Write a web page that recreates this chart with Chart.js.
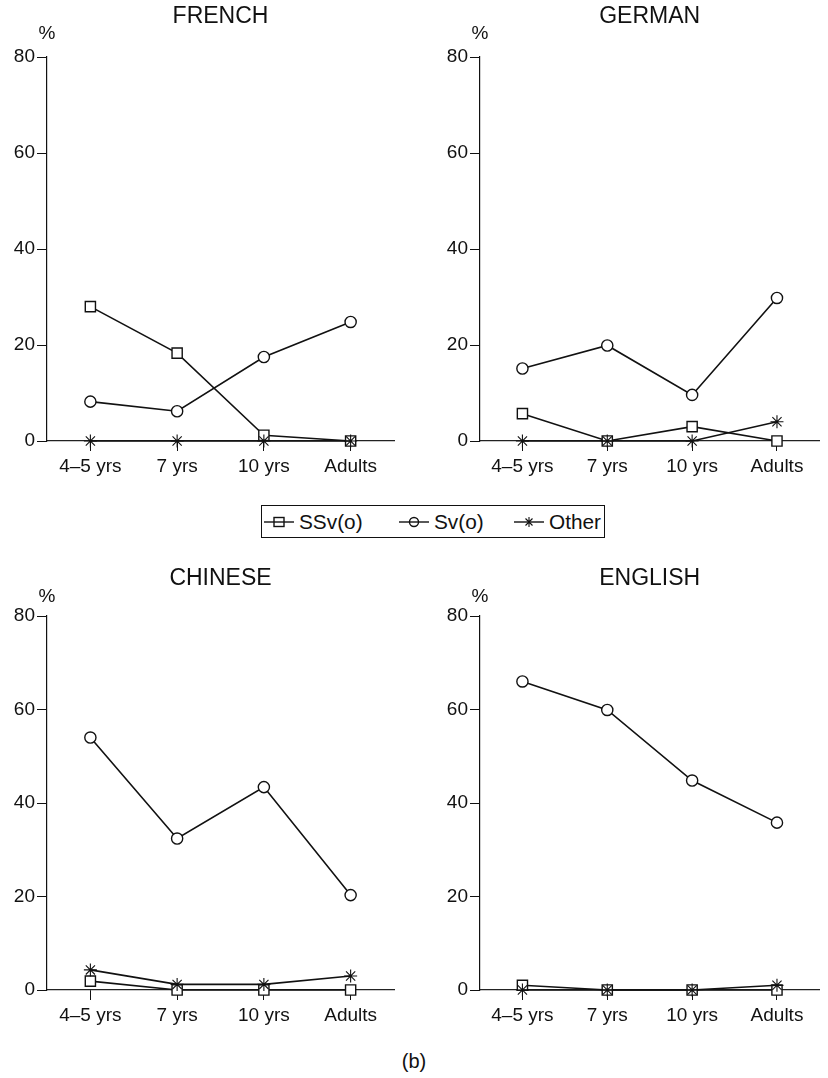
<!DOCTYPE html>
<html>
<head>
<meta charset="utf-8">
<script src="https://cdn.jsdelivr.net/npm/chart.js@4.4.1/dist/chart.umd.min.js"></script>
<style>
  html, body { margin: 0; padding: 0; background: #fff; }
  body { width: 828px; height: 1078px; position: relative; overflow: hidden; font-family: "Liberation Sans", Arial, sans-serif; color: #111; }
  canvas.panel { position: absolute; }
  #legend { position: absolute; left: 261px; top: 505px; width: 342px; height: 31px; border: 1px solid #111; }
  .litem { position: absolute; top: 0; height: 31px; display: flex; align-items: center; font-size: 20.8px; }
  .litem canvas { margin-right: 5px; }
  #caption { position: absolute; left: 0; width: 828px; top: 1050px; text-align: center; font-size: 20px; }
</style>
</head>
<body>
<canvas id="pFrench" class="panel" width="414" height="480" style="left:0;top:0;width:414px;height:480px"></canvas>
<canvas id="pGerman" class="panel" width="414" height="480" style="left:414px;top:0;width:414px;height:480px"></canvas>
<canvas id="pChinese" class="panel" width="414" height="489" style="left:0;top:540px;width:414px;height:489px"></canvas>
<canvas id="pEnglish" class="panel" width="414" height="489" style="left:414px;top:540px;width:414px;height:489px"></canvas>
<div id="legend"></div>
<div id="caption">(b)</div>
<script>
// ---- Data ----
const categories = ["4\u20135 yrs", "7 yrs", "10 yrs", "Adults"];
const seriesNames = ["SSv(o)", "Sv(o)", "Other"];
const yTicks = [0, 20, 40, 60, 80];

const frenchSSv   = [28, 18.3, 1.2, 0];
const frenchSv    = [8.2, 6.2, 17.5, 24.8];
const frenchOther = [0, 0, 0, 0];

const germanSSv   = [5.7, 0, 3.0, 0];
const germanSv    = [15.1, 19.9, 9.6, 29.8];
const germanOther = [0, 0, 0, 4.0];

const chineseSSv   = [1.9, 0, 0, 0];
const chineseSv    = [54.0, 32.4, 43.4, 20.3];
const chineseOther = [4.3, 1.2, 1.2, 3.0];

const englishSSv   = [1.0, 0, 0, 0];
const englishSv    = [66.0, 59.9, 44.8, 35.8];
const englishOther = [0, 0, 0, 1.0];

// ---- Styling ----
const INK = '#111';
const FONT = '"Liberation Sans", Arial, sans-serif';
const markerStyles = [
  { pointStyle: 'rect', pointRadius: 7.2, order: 3 },
  { pointStyle: 'circle', pointRadius: 5.6, order: 2 },
  { pointStyle: 'star', pointRadius: 6.5, order: 1 }
];

const panelText = {
  id: 'panelText',
  afterDraw(chart, args, opts) {
    const ctx = chart.ctx;
    const a = chart.chartArea;
    ctx.save();
    ctx.fillStyle = INK;
    ctx.textAlign = 'center';
    ctx.textBaseline = 'middle';
    ctx.font = '23px ' + FONT;
    ctx.fillText(opts.title, (a.left + a.right) / 2, opts.titleY);
    ctx.font = '19px ' + FONT;
    ctx.fillText('%', a.left, opts.pctY);
    ctx.restore();
  }
};

function makePanel(id, title, seriesArrays, cfg) {
  const datasets = seriesArrays.map((arr, i) => ({
    label: seriesNames[i],
    data: arr,
    borderColor: INK,
    borderWidth: 1.6,
    backgroundColor: '#fff',
    pointBackgroundColor: i === 2 ? INK : '#fff',
    pointBorderColor: INK,
    pointBorderWidth: i === 2 ? 1.1 : 1.4,
    pointStyle: markerStyles[i].pointStyle,
    pointRadius: markerStyles[i].pointRadius,
    order: markerStyles[i].order,
    tension: 0,
    fill: false,
    clip: false
  }));
  return new Chart(document.getElementById(id), {
    type: 'line',
    data: { labels: categories, datasets },
    options: {
      responsive: false,
      animation: false,
      devicePixelRatio: 1,
      layout: { padding: { top: cfg.top, right: cfg.right, left: 0, bottom: 0 } },
      plugins: {
        legend: { display: false },
        tooltip: { enabled: false },
        title: { display: false },
        panelText: { title, titleY: cfg.titleY, pctY: cfg.pctY }
      },
      scales: {
        x: {
          type: 'category',
          offset: true,
          grid: { offset: false, drawOnChartArea: false, drawTicks: true, tickLength: 10, color: INK, lineWidth: 1 },
          border: { display: true, color: '#222', width: 1.2 },
          ticks: { color: INK, font: { size: 19, family: FONT }, padding: 4, maxRotation: 0, autoSkip: false },
          afterFit(scale) { scale.height = 39; }
        },
        y: {
          min: 0, max: 80,
          afterBuildTicks(scale) { scale.ticks = yTicks.map(v => ({ value: v })); },
          grid: { drawOnChartArea: false, drawTicks: true, tickLength: 10, color: INK, lineWidth: 1 },
          border: { display: true, color: INK, width: 1.2 },
          ticks: { color: INK, font: { size: 19, family: FONT }, padding: 2 },
          afterFit(scale) { scale.width = cfg.yWidth; }
        }
      }
    },
    plugins: [panelText]
  });
}

makePanel('pFrench', 'FRENCH', [frenchSSv, frenchSv, frenchOther],
  { top: 57, right: 20, yWidth: 47, titleY: 17, pctY: 34 });
makePanel('pGerman', 'GERMAN', [germanSSv, germanSv, germanOther],
  { top: 57, right: 0, yWidth: 66, titleY: 17, pctY: 34 });
makePanel('pChinese', 'CHINESE', [chineseSSv, chineseSv, chineseOther],
  { top: 76, right: 20, yWidth: 47, titleY: 39, pctY: 57 });
makePanel('pEnglish', 'ENGLISH', [englishSSv, englishSv, englishOther],
  { top: 76, right: 0, yWidth: 66, titleY: 39, pctY: 57 });

// ---- Legend (HTML text with drawn samples) ----
const legendPos = [2, 137, 252];
const legend = document.getElementById('legend');
seriesNames.forEach((name, i) => {
  const item = document.createElement('div');
  item.className = 'litem';
  item.style.left = legendPos[i] + 'px';
  const c = document.createElement('canvas');
  c.width = 30; c.height = 16;
  const ctx = c.getContext('2d');
  ctx.strokeStyle = INK; ctx.lineWidth = 1.4;
  ctx.beginPath(); ctx.moveTo(0, 8); ctx.lineTo(30, 8); ctx.stroke();
  ctx.fillStyle = '#fff';
  if (i === 0) {
    ctx.fillRect(10, 3.5, 10, 9); ctx.strokeRect(10, 3.5, 10, 9);
    ctx.beginPath(); ctx.moveTo(10, 8); ctx.lineTo(20, 8); ctx.stroke();
  } else if (i === 1) {
    ctx.beginPath(); ctx.arc(15, 8, 4.5, 0, Math.PI * 2); ctx.fill(); ctx.stroke();
    ctx.beginPath(); ctx.moveTo(10.5, 8); ctx.lineTo(19.5, 8); ctx.stroke();
  } else {
    ctx.lineWidth = 1.1;
    ctx.beginPath();
    ctx.moveTo(15, 3); ctx.lineTo(15, 13);
    ctx.moveTo(11.5, 4.5); ctx.lineTo(18.5, 11.5);
    ctx.moveTo(18.5, 4.5); ctx.lineTo(11.5, 11.5);
    ctx.stroke();
  }
  item.appendChild(c);
  const t = document.createElement('span');
  t.textContent = name;
  item.appendChild(t);
  legend.appendChild(item);
});
</script>
</body>
</html>
